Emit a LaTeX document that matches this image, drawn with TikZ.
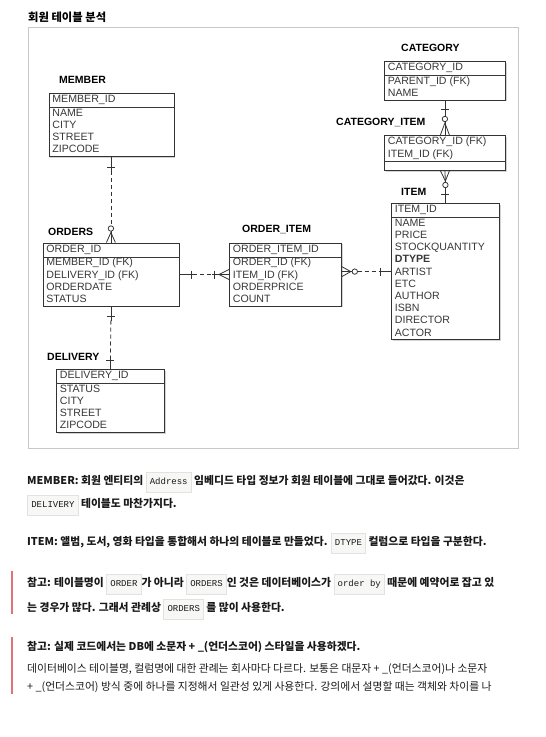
\documentclass[tikz,border=0pt]{standalone}
\usepackage{fontspec}
\setmainfont{Liberation Sans}
\newfontfamily\kr{Noto Sans CJK KR}
\newfontfamily\kode{Liberation Mono}
\usepackage{array}
\usetikzlibrary{calc,shadows}

\definecolor{rama}{HTML}{C8C8C8}
\definecolor{linie}{HTML}{333333}
\definecolor{kodfond}{HTML}{F7F7F5}
\definecolor{kodmargine}{HTML}{E2E2E2}
\definecolor{bara}{HTML}{E0737A}

\setlength\arrayrulewidth{0.8pt}
\newcommand\hd{\rule[-4.4pt]{0pt}{13.6pt}}
\newcommand\coloane[2]{\begin{tabular}[t]{@{\hspace{3.5pt}}p{#1}@{}}#2\end{tabular}}
\newcommand\kod[1]{{\setlength\fboxsep{3.5pt}\setlength\fboxrule{0.6pt}%
  \fcolorbox{kodmargine}{kodfond}{\rule[-4.5pt]{0pt}{12pt}\kode\mdseries\fontsize{9}{10}\selectfont #1}}}

\tikzset{
  tabel/.style={draw=linie, line width=0.8pt, fill=white, inner sep=0pt, anchor=north west,
    drop shadow={shadow xshift=1.2pt, shadow yshift=-1.2pt, opacity=0.35},
    font=\fontsize{10.6}{12.2}\selectfont, text=black!78},
  titlu/.style={anchor=base west, inner sep=0pt, font=\bfseries\fontsize{10.5}{12}\selectfont},
  rel/.style={draw=linie, line width=0.8pt},
  slab/.style={rel, dash pattern=on 4pt off 3pt},
  rand/.style={anchor=base west, inner sep=0pt, font=\kr\fontsize{10.8}{12}\selectfont, text=black!90}
}

\begin{document}
\begin{tikzpicture}[x=1pt, y=-1pt]
  \useasboundingbox (0,0) rectangle (546,737);

  % titlul si rama
  \node[anchor=base west, inner sep=0pt, font=\kr\bfseries\fontsize{11.3}{13}\selectfont] (titlu) at (28,21) {회원 테이블 분석};
  \draw[rama, line width=0.8pt] (28,27) rectangle (518,448);

  % tabelele
  \node[tabel] (member) at (48.5,93) {\coloane{121.5pt}{\hd MEMBER\_ID\\\hline NAME\\CITY\\STREET\\ZIPCODE}};
  \node[tabel] (orders) at (42.5,242.5) {\coloane{132.5pt}{\hd ORDER\_ID\\\hline MEMBER\_ID (FK)\\DELIVERY\_ID (FK)\\ORDERDATE\\STATUS}};
  \node[tabel] (delivery) at (56,369) {\coloane{104.5pt}{\hd DELIVERY\_ID\\\hline STATUS\\CITY\\STREET\\ZIPCODE}};
  \node[tabel] (orderitem) at (229,242.5) {\coloane{108.5pt}{\hd ORDER\_ITEM\_ID\\\hline ORDER\_ID (FK)\\ITEM\_ID (FK)\\ORDERPRICE\\COUNT}};
  \node[tabel] (item) at (391,203) {\coloane{104.5pt}{\hd ITEM\_ID\\\hline NAME\\PRICE\\STOCKQUANTITY\\\textbf{DTYPE}\\ARTIST\\ETC\\AUTHOR\\ISBN\\DIRECTOR\\ACTOR}};
  \node[tabel] (category) at (384,61) {\coloane{117.5pt}{\hd CATEGORY\_ID\\\hline PARENT\_ID (FK)\\NAME}};
  \node[tabel, text depth=25.8pt] (catitem) at (384,135) {\coloane{117.5pt}{\hd CATEGORY\_ID (FK)\\ITEM\_ID (FK)\\\hline}};

  % numele tabelelor
  \node[titlu] (memberT) at (59,83) {MEMBER};
  \node[titlu] (ordersT) at (48,235) {ORDERS};
  \node[titlu] (deliveryT) at (47,360) {DELIVERY};
  \node[titlu] (orderitemT) at (242,232) {ORDER\_ITEM};
  \node[titlu] (itemT) at (401,195) {ITEM};
  \node[titlu] (categoryT) at (401,51) {CATEGORY};
  \node[titlu] (catitemT) at (336,125) {CATEGORY\_ITEM};

  % MEMBER - ORDERS
  \draw[rel] (member.south) -- ++(0,14) coordinate (m1);
  \draw[rel] ($(member.south)+(-4,10)$) -- ++(8,0);
  \draw[slab] (m1) -- ($(member.south |- orders.north)+(0,-16.7)$);
  \draw[rel] ($(orders.north)+(0,-14)$) circle (2.7pt);
  \draw[rel] ($(orders.north)+(0,-11.3)$) -- (orders.north);
  \draw[rel] ($(orders.north)+(-4.5,0)$) -- ($(orders.north)+(0,-10)$) -- ($(orders.north)+(4.5,0)$);

  % ORDERS - DELIVERY
  \draw[rel] (orders.south) -- ++(0,14) coordinate (o1);
  \draw[rel] ($(orders.south)+(-4,10)$) -- ++(8,0);
  \draw[slab] (o1) -- ($(delivery.north)+(0,-13)$);
  \draw[rel] ($(delivery.north)+(0,-13)$) -- (delivery.north);
  \draw[rel] ($(delivery.north)+(-4,-9)$) -- ++(8,0);

  % ORDERS - ORDER_ITEM
  \coordinate (oiW) at (orderitem.west |- orders.east);
  \draw[rel] (orders.east) -- ++(14,0) coordinate (o2);
  \draw[rel] ($(orders.east)+(12,-4)$) -- ++(0,8);
  \draw[slab] (o2) -- ($(oiW)+(-17,0)$);
  \draw[rel] ($(oiW)+(-17,0)$) -- (oiW);
  \draw[rel] ($(oiW)+(-15,-4)$) -- ++(0,8);
  \draw[rel] ($(oiW)+(0,-5)$) -- ($(oiW)+(-10,0)$) -- ($(oiW)+(0,5)$);

  % ORDER_ITEM - ITEM
  \coordinate (oiE) at (item.west -| orderitem.east);
  \draw[rel] ($(oiE)+(0,-5)$) -- ($(oiE)+(9,0)$) -- ($(oiE)+(0,5)$);
  \draw[rel] (oiE) -- ++(10.3,0);
  \draw[rel] ($(oiE)+(13,0)$) circle (2.7pt);
  \draw[slab] ($(oiE)+(15.7,0)$) -- ($(item.west)+(-11,0)$);
  \draw[rel] ($(item.west)+(-11,0)$) -- (item.west);
  \draw[rel] ($(item.west)+(-11,-4)$) -- ++(0,8);

  % CATEGORY - CATEGORY_ITEM
  \draw[rel] (category.south) -- ($(catitem.north)+(0,-18.7)$);
  \draw[rel] ($(category.south)+(-4,9)$) -- ++(8,0);
  \draw[rel] ($(catitem.north)+(0,-16)$) circle (2.7pt);
  \draw[rel] ($(catitem.north)+(0,-13.3)$) -- (catitem.north);
  \draw[rel] ($(catitem.north)+(-4.5,0)$) -- ($(catitem.north)+(0,-12)$) -- ($(catitem.north)+(4.5,0)$);

  % CATEGORY_ITEM - ITEM
  \draw[rel] ($(catitem.south)+(-4.5,0)$) -- ($(item.north)+(0,-22)$) -- ($(catitem.south)+(4.5,0)$);
  \draw[rel] (catitem.south) -- ($(item.north)+(0,-20.7)$);
  \draw[rel] ($(item.north)+(0,-18)$) circle (2.7pt);
  \draw[rel] ($(item.north)+(0,-15.3)$) -- (item.north);
  \draw[rel] ($(item.north)+(-4,-9)$) -- ++(8,0);

  % textul de sub diagrama
  \node[rand] (t1) at (27,484) {\bfseries MEMBER: 회원 엔티티의 \kod{Address} 임베디드 타입 정보가 회원 테이블에 그대로 들어갔다. 이것은};
  \node[rand] (t2) at (27,507) {\bfseries \kod{DELIVERY} 테이블도 마찬가지다.};
  \node[rand] (t3) at (27,545) {\bfseries ITEM: 앨범, 도서, 영화 타입을 통합해서 하나의 테이블로 만들었다. \kod{DTYPE} 컬럼으로 타입을 구분한다.};

  % nota 1
  \draw[bara, line width=2.2pt] (12,571) -- (12,614);
  \node[rand] (n1) at (27,586) {\bfseries 참고: 테이블명이 \kod{ORDER}가 아니라 \kod{ORDERS}인 것은 데이터베이스가 \kod{order by} 때문에 예약어로 잡고 있};
  \node[rand] (n2) at (27,611) {\bfseries 는 경우가 많다. 그래서 관례상 \kod{ORDERS} 를 많이 사용한다.};

  % nota 2
  \draw[bara, line width=2.2pt] (12,637) -- (12,694);
  \node[rand] (m1t) at (27,650) {\bfseries 참고: 실제 코드에서는 DB에 소문자 + \_(언더스코어) 스타일을 사용하겠다.};
  \node[rand] (m2t) at (27,672) {데이터베이스 테이블명, 컬럼명에 대한 관례는 회사마다 다르다. 보통은 대문자 + \_(언더스코어)나 소문자};
  \node[rand] (m3t) at (27,690) {+ \_(언더스코어) 방식 중에 하나를 지정해서 일관성 있게 사용한다. 강의에서 설명할 때는 객체와 차이를 나};
\end{tikzpicture}
\end{document}
